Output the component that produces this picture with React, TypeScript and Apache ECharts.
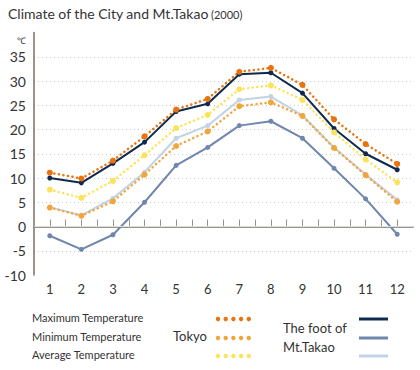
import React, { useEffect, useRef } from "react";
import * as echarts from "echarts";

const months = [1, 2, 3, 4, 5, 6, 7, 8, 9, 10, 11, 12];
const tokyoMax = [11.1, 9.9, 13.6, 18.6, 24.1, 26.3, 31.9, 32.7, 29.2, 22.1, 17.0, 12.9];
const tokyoMin = [3.9, 2.2, 5.2, 10.7, 16.6, 19.6, 24.8, 25.6, 22.8, 16.2, 10.6, 5.1];
const tokyoAvg = [7.6, 5.9, 9.4, 14.7, 20.3, 23.0, 28.3, 29.1, 26.1, 19.4, 13.8, 9.1];
const footMax = [10.0, 9.0, 13.0, 17.4, 23.7, 25.3, 31.4, 31.7, 27.5, 20.2, 15.0, 11.7];
const footMin = [-1.9, -4.7, -1.7, 5.0, 12.6, 16.3, 20.8, 21.7, 18.2, 12.0, 5.7, -1.6];
const footAvg = [4.0, 2.3, 5.8, 11.2, 18.2, 20.8, 26.1, 26.8, 22.9, 16.3, 10.7, 5.5];
const yTicks = [-10, -5, 0, 5, 10, 15, 20, 25, 30, 35, 40];

const C = {
  tMax: "#e8730f",
  tMin: "#f2a53a",
  tAvg: "#fde35c",
  fMax: "#0f2a4e",
  fMin: "#6f86ad",
  fAvg: "#c3d2e4",
};

const FONT = "Lato";

export default function App() {
  const ref = useRef<HTMLDivElement>(null);
  useEffect(() => {
    if (!ref.current) return;
    document.body.style.margin = "0";
    const chart = echarts.init(ref.current, null, { renderer: "svg" });
    const pts = (arr: number[]) => months.map((m, i) => [m, arr[i]]);
    const solid = (name: string, arr: number[], color: string) => ({
      name,
      type: "line",
      data: pts(arr),
      symbol: "circle",
      symbolSize: 5,
      itemStyle: { color },
      lineStyle: { color, width: 2 },
    });
    const dotted = (name: string, arr: number[], color: string) => ({
      name,
      type: "line",
      data: pts(arr),
      symbol: "circle",
      symbolSize: 6,
      itemStyle: { color },
      lineStyle: { color, width: 2.5, type: [0.1, 4.5], cap: "round" },
    });
    const legendRows = [
      { label: "Maximum Temperature", y: 319, dot: C.tMax, line: C.fMax },
      { label: "Minimum Temperature", y: 338, dot: C.tMin, line: C.fMin },
      { label: "Average Temperature", y: 356, dot: C.tAvg, line: C.fAvg },
    ];
    const graphics: any[] = [];
    legendRows.forEach((r) => {
      graphics.push({
        type: "text",
        left: 32,
        top: r.y - 7,
        style: { text: r.label, font: `11px ${FONT}`, fill: "#333" },
      });
      for (let k = 0; k < 5; k++) {
        graphics.push({
          type: "circle",
          shape: { cx: 218 + k * 7.7, cy: r.y, r: 2.2 },
          style: { fill: r.dot },
        });
      }
      graphics.push({
        type: "line",
        shape: { x1: 359, y1: r.y, x2: 388, y2: r.y },
        style: { stroke: r.line, lineWidth: 3 },
      });
    });
    graphics.push({
      type: "text",
      left: 173,
      top: 329,
      style: { text: "Tokyo", font: `13px ${FONT}`, fill: "#333" },
    });
    graphics.push({
      type: "text",
      left: 283,
      top: 321,
      style: { text: "The foot of", font: `13px ${FONT}`, fill: "#333" },
    });
    graphics.push({
      type: "text",
      left: 283,
      top: 340,
      style: { text: "Mt.Takao", font: `13px ${FONT}`, fill: "#333" },
    });
    graphics.push({
      type: "text",
      left: 8,
      top: 6,
      style: { text: "Climate of the City and Mt.Takao", font: `14px ${FONT}`, fill: "#333" },
    });
    graphics.push({
      type: "text",
      left: 211,
      top: 9,
      style: { text: "(2000)", font: `11px ${FONT}`, fill: "#333" },
    });
    graphics.push({
      type: "text",
      left: 17,
      top: 36,
      style: { text: "℃", font: `9px ${FONT}`, fill: "#333" },
    });

    const splitColors = yTicks.map((v) =>
      v === -10 || v === 40 ? "rgba(0,0,0,0)" : "#c8c8c8"
    );

    chart.setOption({
      animation: false,
      backgroundColor: "#fff",
      textStyle: { fontFamily: FONT },
      grid: { left: 34, right: 7, top: 32.5, bottom: 95 },
      xAxis: {
        type: "value",
        min: 0.5,
        max: 12.5,
        interval: 0.5,
        axisLine: { show: true, lineStyle: { color: "#7a7068", width: 1.5 } },
        axisTick: { show: true, inside: true, length: 7, lineStyle: { color: "#9a928a" } },
        axisLabel: {
          color: "#333",
          fontSize: 13,
          margin: 7,
          showMinLabel: false,
          showMaxLabel: false,
          formatter: (v: number) => (Number.isInteger(v) ? String(v) : ""),
        },
        splitLine: { show: false },
      },
      yAxis: {
        type: "value",
        min: -10,
        max: 40,
        interval: 5,
        axisLine: { show: true, lineStyle: { color: "#7a7068", width: 1.5 } },
        axisTick: { show: false },
        axisLabel: {
          color: "#333",
          fontSize: 14,
          margin: 8,
          formatter: (v: number) => (v === 40 ? "" : String(v)),
        },
        splitLine: {
          show: true,
          lineStyle: { color: splitColors, type: [1, 3], width: 1 },
        },
      },
      series: [
        {
          ...solid("foot avg", footAvg, C.fAvg),
          markLine: {
            silent: true,
            symbol: "none",
            label: { show: false },
            lineStyle: { color: "#dcdcdc", type: "solid", width: 1 },
            data: [{ yAxis: 0 }],
          },
        },
        solid("foot min", footMin, C.fMin),
        solid("foot max", footMax, C.fMax),
        dotted("tokyo avg", tokyoAvg, C.tAvg),
        dotted("tokyo min", tokyoMin, C.tMin),
        dotted("tokyo max", tokyoMax, C.tMax),
      ],
      graphic: graphics,
    });
    return () => chart.dispose();
  }, []);
  return <div ref={ref} style={{ width: 420, height: 370 }} />;
}
